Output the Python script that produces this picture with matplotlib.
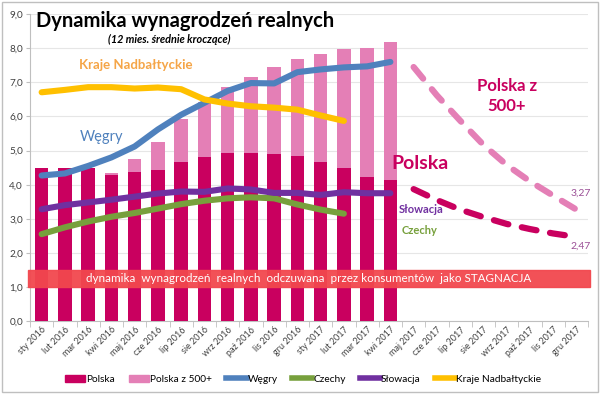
import matplotlib.pyplot as plt
import numpy as np
from matplotlib.patches import Patch
from matplotlib.lines import Line2D

plt.rcParams['font.family'] = ['Lato', 'DejaVu Sans']

months = ['sty 2016', 'lut 2016', 'mar 2016', 'kwi 2016', 'maj 2016', 'cze 2016',
          'lip 2016', 'sie 2016', 'wrz 2016', 'paź 2016', 'lis 2016', 'gru 2016',
          'sty 2017', 'lut 2017', 'mar 2017', 'kwi 2017', 'maj 2017', 'cze 2017',
          'lip 2017', 'sie 2017', 'wrz 2017', 'paź 2017', 'lis 2017', 'gru 2017']

polska = [4.50, 4.49, 4.48, 4.28, 4.36, 4.43, 4.68, 4.82, 4.94, 4.92, 4.90, 4.85,
          4.68, 4.48, 4.24, 4.15]
polska_500 = [4.50, 4.49, 4.48, 4.35, 4.75, 5.25, 5.93, 6.42, 6.86, 7.16, 7.46, 7.70,
              7.84, 7.97, 8.01, 8.19]
wegry = [4.27, 4.33, 4.55, 4.80, 5.12, 5.62, 6.05, 6.40, 6.75, 6.98, 6.97, 7.30,
         7.38, 7.44, 7.47, 7.60]
czechy = [2.55, 2.75, 2.92, 3.06, 3.17, 3.30, 3.43, 3.53, 3.60, 3.63, 3.60, 3.42,
          3.27, 3.15]
slowacja = [3.28, 3.40, 3.48, 3.56, 3.65, 3.74, 3.80, 3.79, 3.89, 3.86, 3.76, 3.76,
            3.70, 3.78, 3.75, 3.75]
baltyckie = [6.71, 6.78, 6.86, 6.86, 6.82, 6.85, 6.80, 6.50, 6.38, 6.30, 6.26, 6.20,
             6.03, 5.87]
# prognozy maj 2017 - gru 2017
prog_500 = [7.45, 6.62, 5.88, 5.17, 4.58, 4.10, 3.68, 3.27]
prog_polska = [3.87, 3.55, 3.27, 3.05, 2.85, 2.70, 2.57, 2.47]

c_pl = '#C9005F'
c_pl500 = '#E47FB6'
c_hu = '#4F81BD'
c_cz = '#77A03C'
c_sk = '#7030A0'
c_lt = '#FFC000'

fig = plt.figure(figsize=(6, 3.94), dpi=100)
ax = fig.add_axes([0.05, 0.185, 0.93, 0.779])

x = np.arange(len(months))
w = 0.57
ax.bar(x[:len(polska_500)], polska_500, w, color=c_pl500, zorder=2)
ax.bar(x[:len(polska)], polska, w, color=c_pl, zorder=3)

lw = 4.4
ax.plot(x[:len(wegry)], wegry, color=c_hu, lw=lw, solid_capstyle='round', zorder=4)
ax.plot(x[:len(czechy)], czechy, color=c_cz, lw=lw, solid_capstyle='round', zorder=4)
ax.plot(x[:len(slowacja)], slowacja, color=c_sk, lw=lw, solid_capstyle='round', zorder=4)
ax.plot(x[:len(baltyckie)], baltyckie, color=c_lt, lw=lw, solid_capstyle='round', zorder=4)

xp = x[16:]
ax.plot(xp, prog_500, color=c_pl500, lw=4.5, ls=(0, (2.4, 2.2)), dash_capstyle='round', zorder=4)
ax.plot(xp, prog_polska, color=c_pl, lw=4.5, ls=(0, (2.4, 2.2)), dash_capstyle='round', zorder=4)

# pas stagnacji
ax.axhspan(1.0, 1.5, xmin=-0.004, xmax=1.003, color='#F2474E', alpha=0.95, zorder=5, clip_on=False)
ax.text(11.5, 1.25, 'dynamika  wynagrodzeń  realnych  odczuwana  przez konsumentów  jako STAGNACJA',
        color='white', fontsize=8.4, ha='center', va='center', zorder=6)

ax.set_xlim(-0.5, len(months) - 0.5)
ax.set_ylim(0, 9)
ax.set_yticks(np.arange(0, 10, 1))
ax.set_yticklabels([f'{v:.1f}'.replace('.', ',') for v in range(10)], fontsize=7.2, color='#404040')
ax.set_xticks(x)
ax.set_xticklabels(months, rotation=45, ha='right', rotation_mode='anchor', fontsize=6.5, color='#404040')
ax.set_xticks(np.arange(-0.5, len(months), 1), minor=True)
ax.tick_params(axis='x', which='major', length=0, pad=3)
ax.tick_params(axis='x', which='minor', length=4, color='#BFBFBF')
ax.tick_params(axis='y', length=3, color='#BFBFBF', pad=2)
ax.grid(axis='y', color='#E6E6E6', lw=0.8, zorder=0)
ax.set_axisbelow(True)
for s in ['top', 'right']:
    ax.spines[s].set_visible(False)
ax.spines['left'].set_color('#BFBFBF')
ax.spines['bottom'].set_color('#BFBFBF')

# tytuly i opisy
fig.text(0.06, 0.946, 'Dynamika wynagrodzeń realnych', fontsize=14.5, fontweight='bold', va='center')
fig.text(0.282, 0.9, '(12 mies. średnie kroczące)', fontsize=7.8, fontweight='bold',
         style='italic', ha='center', va='center')
ax.text(1.6, 7.5, 'Kraje Nadbałtyckie', color='#F5A547', fontsize=9.5, fontweight='bold', va='center')
ax.text(1.65, 5.4, 'Węgry', color=c_hu, fontsize=10.5, va='center')
ax.text(20.0, 6.6, 'Polska z\n500+', color=c_pl, fontsize=12, fontweight='bold',
        ha='center', va='center', linespacing=1.3)
ax.text(15.05, 4.62, 'Polska', color=c_pl, fontsize=14, fontweight='bold', va='center')
ax.text(15.35, 3.26, 'Słowacja', color=c_sk, fontsize=8, fontweight='bold', va='center')
ax.text(15.5, 2.65, 'Czechy', color=c_cz, fontsize=8, fontweight='bold', va='center')
ax.text(23.2, 3.76, '3,27', color='#9B4F96', fontsize=7.5, ha='center', va='center')
ax.text(23.2, 2.2, '2,47', color='#9B4F96', fontsize=7.5, ha='center', va='center')

handles = [Patch(color=c_pl, label='Polska'),
           Patch(color=c_pl500, label='Polska z 500+'),
           Line2D([], [], color=c_hu, lw=4, label='Węgry'),
           Line2D([], [], color=c_cz, lw=4, label='Czechy'),
           Line2D([], [], color=c_sk, lw=4, label='Słowacja'),
           Line2D([], [], color=c_lt, lw=4, label='Kraje Nadbałtyckie')]
fig.legend(handles=handles, loc='center', bbox_to_anchor=(0.505, 0.037), ncol=6, frameon=False,
           fontsize=7.3, handlelength=2.0, handleheight=0.75, handletextpad=0.1, columnspacing=1.4)

# ramka
fig.add_artist(plt.Rectangle((0.003, 0.004), 0.994, 0.992, transform=fig.transFigure,
                             fill=False, edgecolor='#BFBFBF', lw=1))

fig.savefig('out.png', dpi=100)
